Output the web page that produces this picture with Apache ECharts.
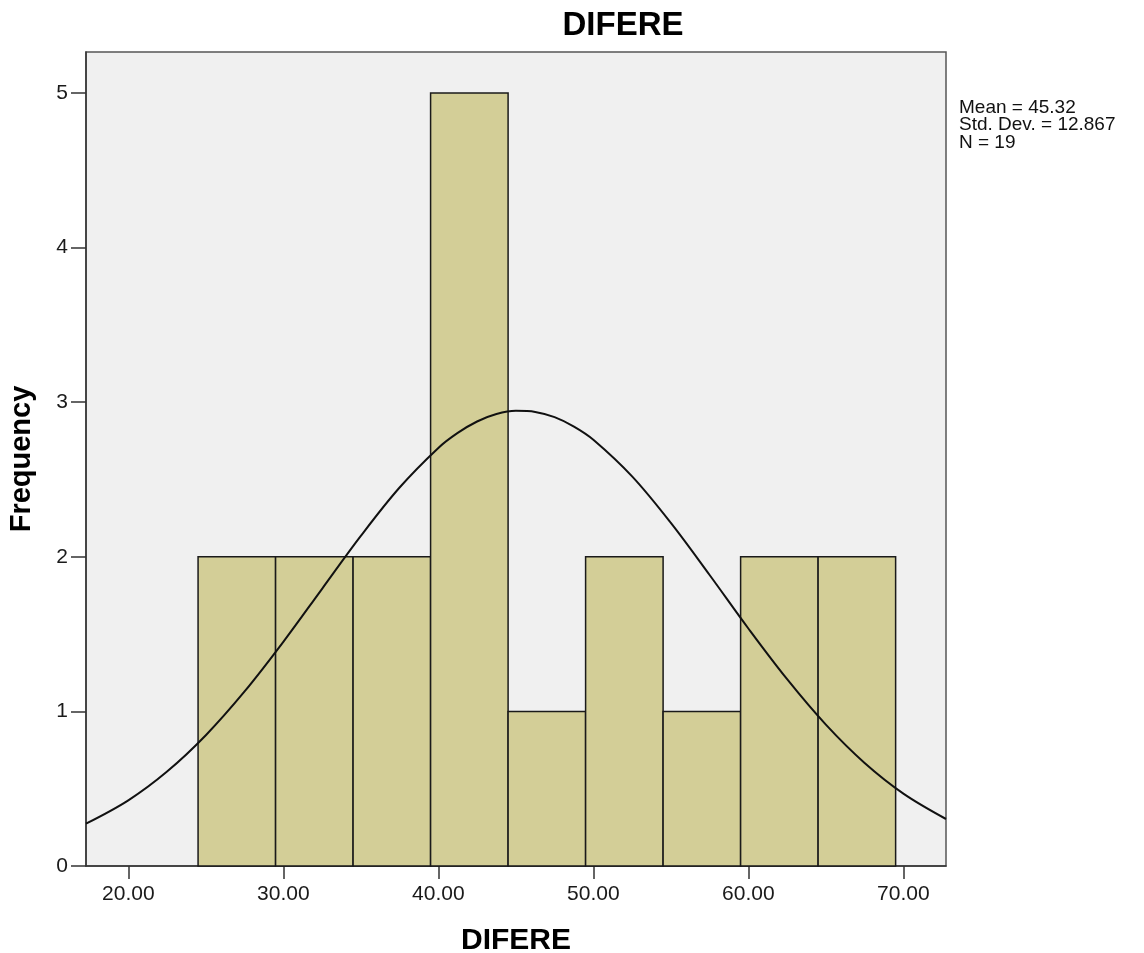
<!DOCTYPE html>
<html><head><meta charset="utf-8">
<script src="https://cdn.jsdelivr.net/npm/echarts@6/dist/echarts.min.js"></script>
<style>html,body{margin:0;padding:0;background:#fff}#c{width:1144px;height:953px}</style>
</head><body><div id="c"></div>
<script>
var binStarts = [24.5, 29.5, 34.5, 39.5, 44.5, 49.5, 54.5, 59.5, 64.5];
var binWidth = 5;
var frequencies = [2, 2, 2, 5, 1, 2, 1, 2, 2];
var curveX = [17.27, 20, 22.5, 25, 27.5, 30, 32.5, 35, 37.5, 40, 41.25, 42.5, 43.75, 45, 46.25, 47.5, 48.75, 50, 52.5, 55, 57.5, 60, 62.5, 65, 67.5, 70, 72.75];
var curveY = [0.274, 0.425, 0.611, 0.846, 1.129, 1.450, 1.793, 2.135, 2.448, 2.704, 2.801, 2.875, 2.923, 2.944, 2.937, 2.903, 2.842, 2.757, 2.520, 2.219, 1.882, 1.536, 1.208, 0.914, 0.666, 0.468, 0.304];
var xTicks = [20, 30, 40, 50, 60, 70];
var yTicks = [0, 1, 2, 3, 4, 5];
var titleText = 'DIFERE';
var xName = 'DIFERE';
var yName = 'Frequency';
var statsLines = ['Mean = 45.32', 'Std. Dev. = 12.867', 'N = 19'];

var barData = binStarts.map(function (s, i) { return [s, s + binWidth, frequencies[i]]; });
var curveData = curveX.map(function (x, i) { return [x, curveY[i]]; });
var FONT = 'Arial, "Liberation Sans", sans-serif';

var chart = echarts.init(document.getElementById('c'));
chart.setOption({
  animation: false,
  textStyle: { fontFamily: FONT },
  grid: {
    left: 86, right: 198, top: 52, bottom: 87,
    outerBoundsMode: 'none', containLabel: false,
    show: true, backgroundColor: '#F0F0F0', borderColor: '#555', borderWidth: 1.5
  },
  xAxis: {
    type: 'value', min: 17.27, max: 72.75,
    name: xName, nameLocation: 'middle', nameGap: 60,
    nameTextStyle: { fontSize: 30, fontWeight: 'bold', color: '#000', fontFamily: FONT },
    axisLine: { show: true, lineStyle: { color: '#333', width: 1.5 } },
    axisTick: { show: true, length: 13, customValues: xTicks, lineStyle: { color: '#333', width: 1.5 } },
    axisLabel: { customValues: xTicks, fontSize: 21, color: '#1a1a1a', margin: 18, fontFamily: FONT,
      formatter: function (v) { return v.toFixed(2); } },
    splitLine: { show: false }
  },
  yAxis: {
    type: 'value', min: 0, max: 5.265,
    name: yName, nameLocation: 'middle', nameGap: 50, nameRotate: 90,
    nameTextStyle: { fontSize: 29, fontWeight: 'bold', color: '#000', fontFamily: FONT },
    axisLine: { show: true, lineStyle: { color: '#333', width: 1.5 } },
    axisTick: { show: true, length: 15, customValues: yTicks, lineStyle: { color: '#333', width: 1.5 } },
    axisLabel: { customValues: yTicks, fontSize: 21, color: '#1a1a1a', margin: 18, fontFamily: FONT },
    splitLine: { show: false }
  },
  series: [
    {
      type: 'custom',
      data: barData,
      encode: { x: [0, 1], y: 2 },
      renderItem: function (params, api) {
        var p0 = api.coord([api.value(0), 0]);
        var p1 = api.coord([api.value(1), api.value(2)]);
        return {
          type: 'rect',
          shape: { x: p0[0], y: p1[1], width: p1[0] - p0[0], height: p0[1] - p1[1] },
          style: { fill: '#D3CE97', stroke: '#1a1a1a', lineWidth: 1.5 }
        };
      }
    },
    {
      type: 'line', data: curveData, smooth: 0.35, showSymbol: false,
      lineStyle: { color: '#111', width: 2 }, z: 5
    }
  ],
  graphic: [
    {
      type: 'text', x: 623, y: 26,
      style: { text: titleText, fontSize: 33, fontWeight: 'bold', fill: '#000', fontFamily: FONT,
        align: 'center', verticalAlign: 'middle' }
    },
    {
      type: 'text', x: 959, y: 99,
      style: { text: statsLines.join('\n'), fontSize: 19, lineHeight: 17.5, fill: '#111', fontFamily: FONT }
    }
  ]
});
</script>
</body></html>
